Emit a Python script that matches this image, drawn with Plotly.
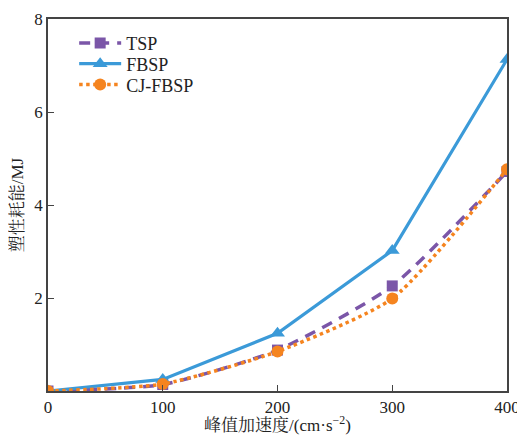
import plotly.graph_objects as go

x = [0, 100, 200, 300, 400]
tsp = [0.0, 0.14, 0.88, 2.26, 4.72]
fbsp = [0.0, 0.25, 1.24, 3.02, 7.13]
cj_fbsp = [0.0, 0.15, 0.85, 1.99, 4.77]

font_family = "'Liberation Serif', 'Noto Serif CJK SC', 'Noto Sans CJK SC', serif"

fig = go.Figure()
fig.add_trace(go.Scatter(x=x, y=tsp, name="TSP", mode="lines+markers", legend="legend",
                         line=dict(color="#7b56a8", width=3.5, dash="11px,8px", shape="spline", smoothing=0.6),
                         marker=dict(symbol="square", size=11, color="#7b56a8")))
fig.add_trace(go.Scatter(x=x, y=fbsp, name="FBSP", mode="lines+markers", legend="legend2",
                         line=dict(color="#3b9ad8", width=3.2),
                         marker=dict(symbol="triangle-up", size=13, color="#3b9ad8")))
fig.add_trace(go.Scatter(x=x, y=cj_fbsp, name="CJ-FBSP", mode="lines+markers", legend="legend3",
                         line=dict(color="#f5841f", width=3.5, dash="dot", shape="spline", smoothing=0.6),
                         marker=dict(symbol="circle", size=12, color="#f5841f")))

axis_common = dict(showline=True, linecolor="#444444", linewidth=1.5, mirror=True,
                   ticks="inside", ticklen=6, tickcolor="#444444", showgrid=False, zeroline=False,
                   automargin=False,
                   tickfont=dict(family=font_family, size=17, color="#222222"))

legend_common = dict(x=0.057, xanchor="left", yanchor="middle", bgcolor="rgba(0,0,0,0)",
                     font=dict(family=font_family, size=18, color="#222222"), itemwidth=42)

fig.update_layout(
    width=517, height=427,
    margin=dict(l=40, r=18, t=11, b=44),
    plot_bgcolor="white", paper_bgcolor="white",
    font=dict(family=font_family, size=17, color="#222222"),
    xaxis=dict(range=[0, 400], tickvals=[0, 100, 200, 300, 400],
               title=dict(text="峰值加速度/(cm·s<sup>−2</sup>)", standoff=0,
                          font=dict(family=font_family, size=17)),
               **axis_common),
    yaxis=dict(range=[0, 8], tickvals=[2, 4, 6, 8],
               title=dict(text="塑性耗能/MJ", standoff=6,
                          font=dict(family=font_family, size=17)),
               **axis_common),
    legend=dict(y=0.935, **legend_common),
    legend2=dict(y=0.879, **legend_common),
    legend3=dict(y=0.823, **legend_common),
    showlegend=True,
)
fig.update_traces(cliponaxis=True)

fig.write_html("out.html")
